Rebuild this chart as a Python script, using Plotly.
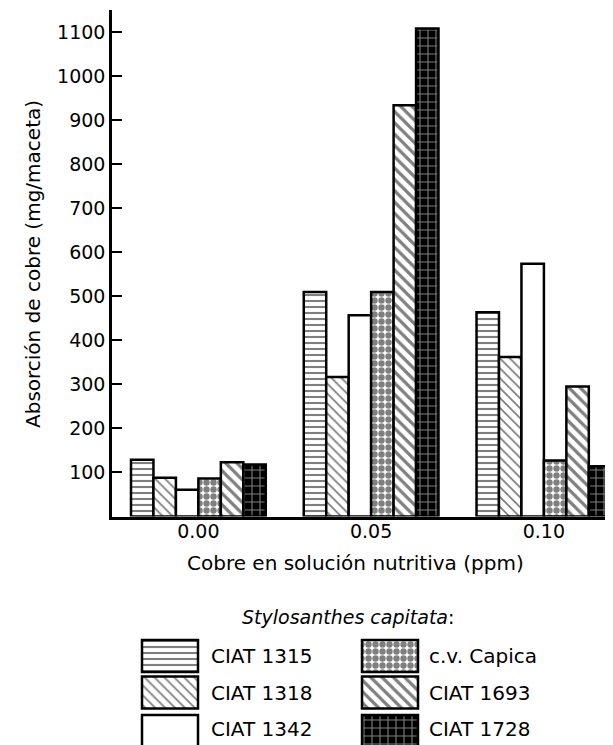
import plotly.graph_objects as go

# ---------------- data ----------------
categories = ["0.00", "0.05", "0.10"]
series_names = ["CIAT 1315", "CIAT 1318", "CIAT 1342", "c.v. Capica", "CIAT 1693", "CIAT 1728"]
ciat_1315 = [129, 510, 464]
ciat_1318 = [88, 317, 362]
ciat_1342 = [61, 457, 574]
cv_capica = [86, 510, 127]
ciat_1693 = [123, 934, 295]
ciat_1728 = [118, 1108, 114]
y_tickvals = [100, 200, 300, 400, 500, 600, 700, 800, 900, 1000, 1100]
y_ticktext = [str(v) for v in y_tickvals]

series_values = [ciat_1315, ciat_1318, ciat_1342, cv_capica, ciat_1693, ciat_1728]

# ---------------- styles ----------------
OFF = 8            # default page margin around the figure
W, H = 613 - OFF, 745 - OFF
T = 2
FONT = "DejaVu Sans"

patterns = [
    dict(shape="-", size=6, solidity=0.35, fgcolor="black", bgcolor="white"),
    dict(shape="\\", size=7, solidity=0.25, fgcolor="black", bgcolor="white"),
    dict(shape="", fgcolor="black", bgcolor="white"),
    dict(shape=".", size=7, solidity=0.65, fgcolor="black", bgcolor="white"),
    dict(shape="\\", size=8, solidity=0.4, fgcolor="black", bgcolor="white"),
    dict(shape="+", size=8, solidity=0.25, fgcolor="white", bgcolor="black"),
]


def px_x(s):
    """screen x (px) -> paper x"""
    return (s - OFF) / W


def px_y(s):
    """screen y (px, from top) -> paper y"""
    return (H - (s - OFF)) / (H - T)


fig = go.Figure()

for name, vals, pat in zip(series_names, series_values, patterns):
    fig.add_trace(go.Bar(
        x=categories, y=vals, name=name,
        marker=dict(color="white", pattern=pat, line=dict(color="black", width=2.5)),
        showlegend=False, xaxis="x", yaxis="y",
    ))

# ---- legend drawn as swatch bars on a helper axis (units = pixels) ----
leg_cols_x = [142, 362]
leg_text_x = [210, 428]
leg_rows_y = [656, 692.5, 731]
leg_text_y = [656, 693, 729]
sw_w, sw_h = 56, 32
LEG_H = 125  # helper axis height in px

for i, (name, pat) in enumerate(zip(series_names, patterns)):
    col, row = divmod(i, 3)
    fig.add_trace(go.Bar(
        orientation="h",
        y=[745 - leg_rows_y[row]], x=[sw_w], base=[leg_cols_x[col] - OFF],
        width=[sw_h], offset=-sw_h / 2,
        marker=dict(color="white", pattern=pat, line=dict(color="black", width=2.5)),
        showlegend=False, xaxis="x2", yaxis="y2", hoverinfo="skip",
    ))
    fig.add_annotation(
        text=name, x=px_x(leg_text_x[col]), y=px_y(leg_text_y[row]),
        xref="paper", yref="paper", xanchor="left", yanchor="middle",
        showarrow=False, borderpad=0, font=dict(family=FONT, size=20, color="black"),
    )

fig.add_annotation(
    text="<i>Stylosanthes capitata</i>:", x=px_x(348), y=px_y(617),
    xref="paper", yref="paper", xanchor="center", yanchor="middle",
    showarrow=False, borderpad=0, font=dict(family=FONT, size=19, color="black"),
)
fig.add_annotation(
    text="Cobre en solución nutritiva (ppm)", x=px_x(356), y=px_y(563),
    xref="paper", yref="paper", xanchor="center", yanchor="middle",
    showarrow=False, borderpad=0, font=dict(family=FONT, size=20, color="black"),
)
fig.add_annotation(
    text="Absorción de cobre (mg/maceta)", x=px_x(33), y=px_y(264),
    xref="paper", yref="paper", xanchor="center", yanchor="middle",
    textangle=-90, showarrow=False, borderpad=0,
    font=dict(family=FONT, size=20, color="black"),
)

fig.update_layout(
    width=W, height=H,
    margin=dict(l=0, r=0, t=T, b=0),
    paper_bgcolor="white", plot_bgcolor="white",
    barmode="group", bargap=0.22, bargroupgap=0,
    font=dict(family=FONT, size=19, color="black"),
    xaxis=dict(
        domain=[px_x(112), 1], range=[-0.5, 2.4], type="category",
        showline=True, linecolor="black", linewidth=2.5,
        ticks="", showgrid=False, zeroline=False, ticklabelstandoff=-4,
        tickfont=dict(family=FONT, size=19, color="black"),
    ),
    yaxis=dict(
        domain=[px_y(516.5), 1], range=[0, 1150],
        tickvals=y_tickvals, ticktext=y_ticktext,
        showline=True, linecolor="black", linewidth=2.5,
        ticks="inside", ticklen=10, tickwidth=2, tickcolor="black",
        showgrid=False, zeroline=False, ticklabelstandoff=0,
        tickfont=dict(family=FONT, size=19, color="black"),
    ),
    xaxis2=dict(domain=[0, 1], range=[0, W], visible=False, anchor="y2"),
    yaxis2=dict(domain=[0, LEG_H / (H - T)], range=[0, LEG_H], visible=False, anchor="x2"),
)

fig.write_html("out.html")
